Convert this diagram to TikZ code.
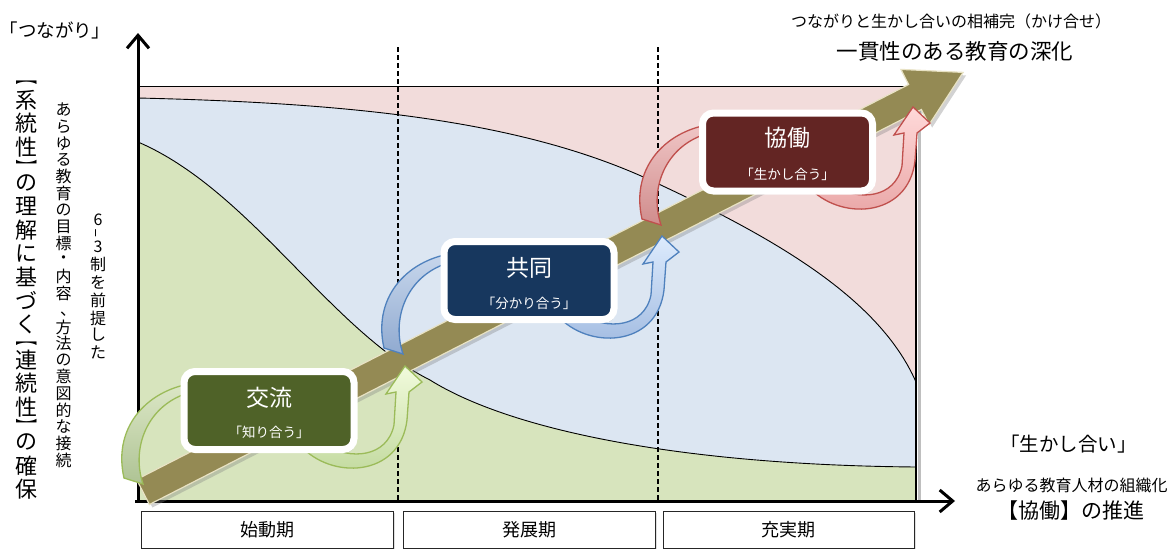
\documentclass[tikz,border=0pt]{standalone}
\usepackage{fontspec}
\usepackage{graphicx}
\setmainfont{Noto Sans CJK JP}
\usetikzlibrary{arrows.meta,shadows}
\definecolor{pinkbg}{HTML}{F2DCDB}
\definecolor{bluebg}{HTML}{DCE6F2}
\definecolor{greenbg}{HTML}{D7E4BD}
\definecolor{bandcol}{HTML}{948A54}
\definecolor{bandedge}{HTML}{E8E2C4}
\definecolor{gboxcol}{HTML}{4F6228}
\definecolor{bboxcol}{HTML}{17375E}
\definecolor{rboxcol}{HTML}{632523}
\definecolor{gout}{HTML}{9BBB59}
\definecolor{gtt}{HTML}{DCE7C6}
\definecolor{gtb}{HTML}{AEC394}
\definecolor{ght}{HTML}{F1FBDC}
\definecolor{ghb}{HTML}{C0D89C}
\definecolor{bout}{HTML}{4F81BD}
\definecolor{btt}{HTML}{C8D7EC}
\definecolor{btb}{HTML}{90AAD0}
\definecolor{bht}{HTML}{DDEBFD}
\definecolor{bhb}{HTML}{A0BAE0}
\definecolor{rout}{HTML}{C0504D}
\definecolor{rtt}{HTML}{F0C6C6}
\definecolor{rtb}{HTML}{D08C8C}
\definecolor{rht}{HTML}{FFD9D9}
\definecolor{rhb}{HTML}{E8A4A4}
% #1 tail shift, #2 head shift, #3 outline, #4/#5 tail top/bottom, #6/#7 head top/bottom
\newcommand\swoosh[7]{%
  \begin{scope}[shift={#1}]
    \draw[draw=#3, line width=1.3pt, top color=#4, bottom color=#5]
      (196,383) .. controls (150,388) and (112,425) .. (124,478)
      -- (143,484) .. controls (130,445) and (150,400) .. (196,391) -- cycle;
  \end{scope}
  \begin{scope}[shift={#2}]
    \draw[draw=#3, line width=1.3pt, top color=#6, bottom color=#7]
      (300,445) .. controls (330,480) and (400,478) .. (407,420) -- (409,392)
      -- (422,382) -- (405,366) -- (386,394) -- (396,392) -- (394,425)
      .. controls (387,458) and (350,460) .. (325,445) -- cycle;
  \end{scope}}
\newcommand\vbrk[1]{\scalebox{1}[0.55]{#1}}
\begin{document}
\begin{tikzpicture}[x=1pt,y=-1pt,
  lbl/.style={inner sep=0pt, font=\fontsize{#1}{#1}\selectfont},
  vch/.style={inner sep=0pt, font=\fontsize{#1}{#1}\selectfont},
  stagebox/.style={draw=white, line width=7pt, rounded corners=11pt,
    minimum width=170pt, minimum height=78pt, inner sep=0pt,
    drop shadow={opacity=0.45, shadow xshift=2pt, shadow yshift=-3pt}},
  boxtitle/.style={lbl=23, text=white},
  boxsub/.style={lbl=13.5, text=white},
  phase/.style={draw=black!85, line width=0.8pt, fill=white,
    minimum width=252pt, minimum height=37pt, inner sep=0pt,
    font=\fontsize{18}{18}\selectfont,
    drop shadow={opacity=0.25, shadow xshift=1.5pt, shadow yshift=-1.5pt}},
  axisline/.style={line width=3pt, -{Straight Barb[length=13pt,width=22pt]}},
  divider/.style={dash pattern=on 5pt off 3pt, line width=1.2pt},
  boundary/.style={line width=0.9pt}]
\useasboundingbox (0,0) rectangle (1176,549);
\fill[white] (0,0) rectangle (1176,549);

% regions
\def\bluecurve{(138,98) .. controls (350,103) and (520,120) .. (650,180) .. controls (780,240) and (880,300) .. (916,382)}
\def\greencurve{(138,142) .. controls (250,190) and (330,330) .. (430,380) .. controls (510,430) and (680,465) .. (916,467)}
\fill[pinkbg] (138,86) rectangle (916,501);
\fill[bluebg] \bluecurve -- (916,501) -- (138,501) -- cycle;
\fill[greenbg] \greencurve -- (916,501) -- (138,501) -- cycle;
\draw[boundary] \bluecurve;
\draw[boundary] \greencurve;
\draw[line width=1pt] (138,86) -- (916,86);
\draw[black!25, line width=3pt] (919.5,90) -- (919.5,501);
\draw[line width=1.5pt] (916,86) -- (916,501);

% dividers
\coordinate (d1t) at (398,47); \coordinate (d1b) at (398,501);
\coordinate (d2t) at (658,47); \coordinate (d2b) at (658,501);
\draw[divider] (d1t) -- (d1b);
\draw[divider] (d2t) -- (d2b);

% axes
\coordinate (yb) at (138,503); \coordinate (yt) at (138,33);
\coordinate (xb) at (135,501); \coordinate (xt) at (955,501);
\draw[axisline] (yb) -- (yt);
\draw[axisline] (xb) -- (xt);

% olive band arrow
\draw[fill=bandcol, draw=bandedge, line width=1.2pt,
  drop shadow={opacity=0.35, shadow xshift=3pt, shadow yshift=-3pt}]
  (136.6,479.5) -- (908.6,84.5) -- (900.9,69.4) -- (963.1,72.4)
  -- (929.1,124.6) -- (921.4,109.5) -- (149.4,504.5) -- cycle;

% curved arrows
\swoosh{(0,0)}{(0,0)}{gout}{gtt}{gtb}{ght}{ghb}
\swoosh{(260,-130)}{(257,-130)}{bout}{btt}{btb}{bht}{bhb}
\swoosh{(518,-259)}{(508,-259)}{rout}{rtt}{rtb}{rht}{rhb}

% stage boxes
\node[stagebox, fill=gboxcol] (kouryu) at (269,410.5) {};
\node[boxtitle] (kouryuT) at (269,397.5) {交流};
\node[boxsub] (kouryuS) at (269,432.5) {「知り合う」};
\node[stagebox, fill=bboxcol] (kyoudou) at (529,280.5) {};
\node[boxtitle] (kyoudouT) at (529,267.5) {共同};
\node[boxsub] (kyoudouS) at (529,303) {「分かり合う」};
\node[stagebox, fill=rboxcol] (kyoudo) at (787.5,152) {};
\node[boxtitle] (kyoudoT) at (787.5,138) {協働};
\node[boxsub] (kyoudoS) at (787.5,174) {「生かし合う」};

% phases
\node[phase] (p1) at (267.5,529.5) {始動期};
\node[phase] (p2) at (529.5,529.5) {発展期};
\node[phase, minimum width=251pt] (p3) at (788.5,529.5) {充実期};

% outside labels
\node[lbl=18.5] (tsunagari) at (55,30) {「つながり」};
\node[lbl=16] (top1) at (951,21) {つながりと生かし合いの相補完（かけ合せ）};
\node[lbl=21.5] (top2) at (955,51) {一貫性のある教育の深化};
\node[lbl=19.5] (ikashi) at (1068.5,444) {「生かし合い」};
\node[lbl=16] (soshiki) at (1071.5,485) {あらゆる教育人材の組織化};
\node[lbl=21] (suishin) at (1071,511) {【協働】の推進};

% vertical column 1
\foreach \c/\y [count=\i] in {系/100,統/123.6,性/147.2,の/182.6,理/206.2,解/229.8,に/253.4,基/277,づ/300.6,く/324,連/360,続/383.4,性/406.8,の/442.2,確/465.8,保/489.4}
  \node[vch=22] (va\i) at (26.5,\y) {\c};
\foreach \c/\y [count=\i] in {︻/82.3,︼/164.9,︻/343.5,︼/424.5}
  \node[vch=22] (vb\i) at (26.5,\y) {\vbrk{\c}};

% vertical column 2
\foreach \c/\y [count=\i] in {あ/110,ら/126.7,ゆ/143.3,る/160,教/176.7,育/193.3,の/210,目/226.7,標/243.3,・/260,内/276.7,容/293,方/327,法/343.5,の/360,意/376.7,図/393.3,的/410,な/426.7,接/443.3,続/460}
  \node[vch=16] (vc\i) at (63.5,\y) {\c};
\node[vch=16] (vcomma) at (68,314) {、};

% vertical column 3
\foreach \c/\y [count=\i] in {6/220,3/247,制/264,を/282,前/300,提/318,し/335,た/352}
  \node[vch=16] (vd\i) at (98,\y) {\c};
\node[vch=16, rotate=90] (vdash) at (98,233.5) {–};
\end{tikzpicture}
\end{document}
